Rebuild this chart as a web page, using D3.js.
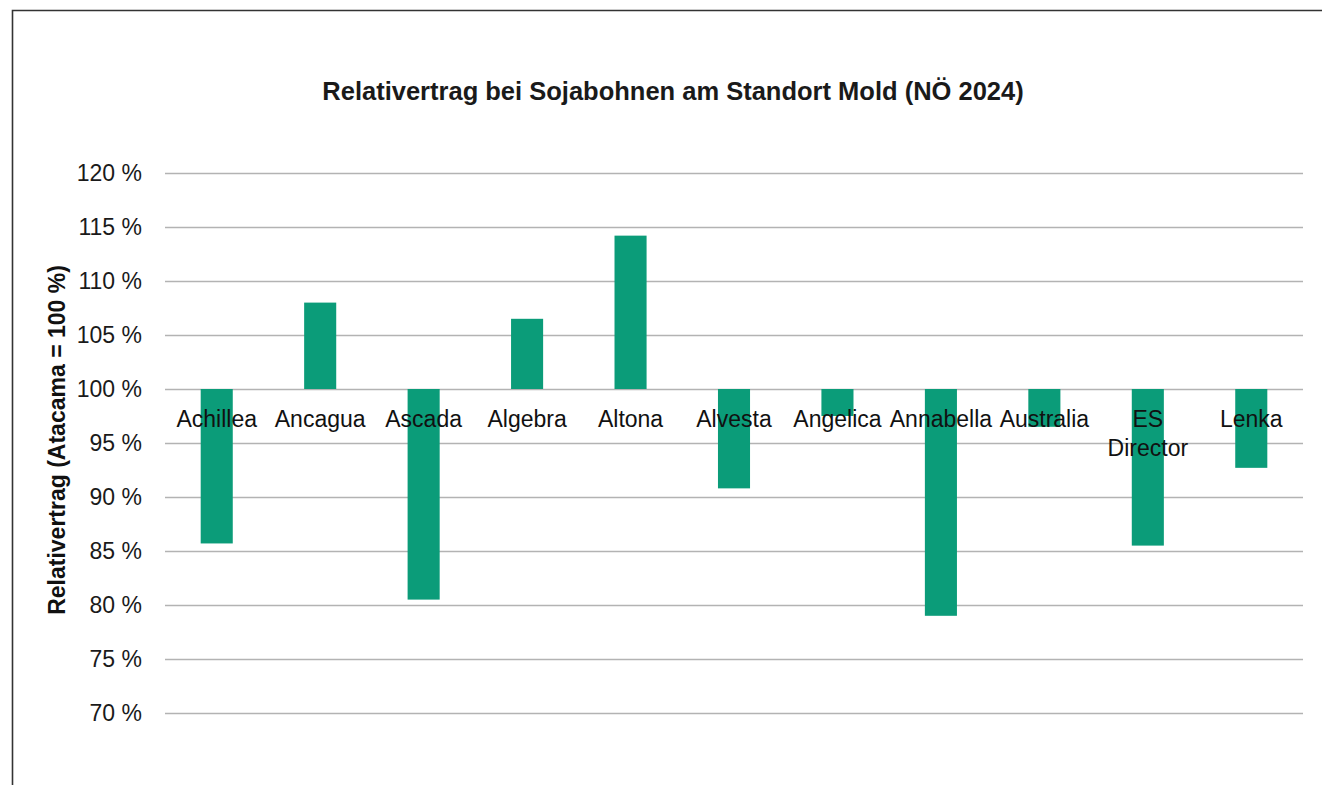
<!DOCTYPE html>
<html><head><meta charset="utf-8">
<script src="https://cdn.jsdelivr.net/npm/d3@7"></script>
<style>
html,body{margin:0;padding:0;background:#fff;}
svg{display:block;font-family:"Liberation Sans",Arial,Helvetica,sans-serif;}
</style></head>
<body>
<svg id="chart" width="1322" height="785"></svg>
<script>
const categories = ["Achillea","Ancagua","Ascada","Algebra","Altona","Alvesta","Angelica","Annabella","Australia","ES Director","Lenka"];
const values = [85.7, 108.0, 80.5, 106.5, 114.2, 90.8, 97.5, 79.0, 96.5, 85.5, 92.7];
const yTicks = [70,75,80,85,90,95,100,105,110,115,120];
const baseline = 100;
const title = "Relativertrag bei Sojabohnen am Standort Mold (NÖ 2024)";
const yTitle = "Relativertrag (Atacama = 100 %)";

(function(){
const svg = d3.select("#chart");
const mLeft = 165, mRight = 1303, mTop = 173, mBottom = 713;

// frame
svg.append("path").attr("d","M12.5,785 L12.5,10.5 L1322,10.5")
  .attr("fill","none").attr("stroke","#333").attr("stroke-width",1.6);

const x = d3.scaleBand().domain(categories).range([mLeft,mRight]).paddingInner(0.69).paddingOuter(0.345);
const y = d3.scaleLinear().domain([70,120]).range([mBottom,mTop]);

// grid
svg.append("g").selectAll("line").data(yTicks).join("line")
  .attr("x1",mLeft).attr("x2",mRight)
  .attr("y1",d=>Math.round(y(d))+0.5).attr("y2",d=>Math.round(y(d))+0.5)
  .attr("stroke","#b3b3b3").attr("stroke-width",1.5);

// y axis labels
const yAxis = d3.axisLeft(y).tickValues(yTicks).tickSize(0).tickPadding(0).tickFormat(d=>d+" %");
const ya = svg.append("g").attr("transform",`translate(142,0)`).call(yAxis);
ya.select(".domain").remove();
ya.selectAll("text").attr("font-size",23).attr("fill","#1a1a1a").attr("font-family","Liberation Sans, Arial, sans-serif");

// bars
svg.append("g").selectAll("rect").data(values).join("rect")
  .attr("x",(d,i)=>x(categories[i]))
  .attr("width",x.bandwidth())
  .attr("y",d=>y(Math.max(d,baseline)))
  .attr("height",d=>Math.abs(y(d)-y(baseline)))
  .attr("fill","#0b9c79");

// category labels
const xAxis = d3.axisBottom(x).tickSize(0).tickPadding(0);
const xa = svg.append("g").attr("transform",`translate(0,${y(baseline)})`).call(xAxis);
xa.select(".domain").remove();
xa.selectAll("text").each(function(d){
  const t = d3.select(this);
  t.text(null).attr("y",0).attr("dy",null).attr("font-size",23).attr("fill","#111")
   .attr("font-family","Liberation Sans, Arial, sans-serif");
  d.split(" ").forEach((w,k)=>{
    t.append("tspan").attr("x",0).attr("y",38+k*29).text(w);
  });
});

// title
svg.append("text").attr("x",673).attr("y",100).attr("text-anchor","middle")
  .attr("font-size",25.5).attr("font-weight","bold").attr("fill","#1a1a1a").text(title);

// y title
svg.append("text").attr("transform","translate(65,440) rotate(-90)").attr("text-anchor","middle")
  .attr("font-size",23).attr("font-weight","bold").attr("fill","#111").text(yTitle);
})();
</script>
</body></html>
